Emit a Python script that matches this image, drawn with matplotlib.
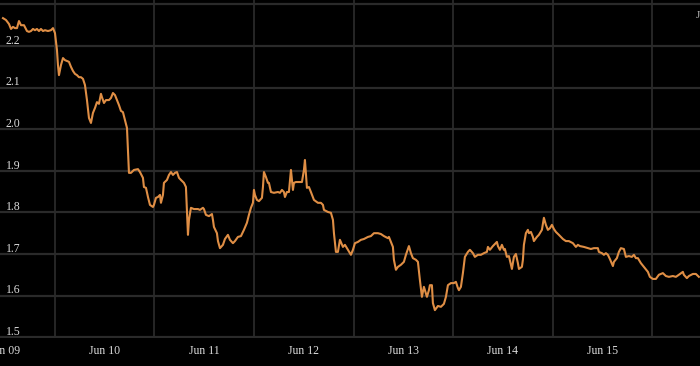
import matplotlib
matplotlib.use("Agg")
import matplotlib.pyplot as plt

# hours since Jun 09 00:00
hours = [-0.48, 0.24, 0.96, 1.45, 1.93, 2.41, 2.89, 3.37, 3.86, 4.58, 5.30, 5.78, 6.27, 6.75, 7.23, 7.71,
         8.19, 8.67, 9.16, 9.64, 10.36, 11.08, 11.57, 12.05, 12.53, 12.77, 13.01, 13.49, 13.98, 14.46, 14.94,
         15.42, 15.90, 16.39, 16.87, 17.35, 17.83, 18.31, 18.80, 19.28, 19.76, 20.24, 20.72, 21.20, 21.69,
         22.17, 22.65, 23.13, 23.37, 23.86, 24.34, 25.06, 25.54, 26.02, 26.51, 26.99, 27.47, 27.95, 28.43,
         28.92, 29.40, 29.88, 30.36, 31.08, 32.05, 32.53, 33.25, 33.49, 33.98, 34.46, 34.94, 35.66, 35.90,
         36.39, 36.87, 37.35, 37.59, 38.07, 38.31, 39.04, 39.52, 40.00, 40.48, 40.96, 41.45, 41.93, 42.41,
         43.13, 43.61, 44.10, 44.34, 44.82, 45.54, 46.51, 46.99, 47.71, 47.95, 48.43, 49.16, 49.88, 50.12,
         50.36, 51.08, 51.33, 51.81, 52.53, 53.01, 53.73, 54.22, 54.94, 55.42, 56.14, 56.87, 57.59, 58.31,
         58.79, 59.28, 59.76, 60.00, 60.24, 60.72, 61.20, 61.93, 62.17, 62.41, 62.89, 63.37, 63.61, 64.10,
         64.82, 65.78, 66.27, 66.75, 67.23, 67.47, 67.95, 68.43, 68.92, 69.40, 69.64, 70.12, 70.84, 71.57,
         72.05, 72.29, 72.77, 73.25, 73.73, 74.46, 75.42, 76.14, 76.63, 76.87, 77.83, 78.55, 79.04, 79.28,
         79.76, 80.24, 80.72, 81.45, 81.93, 82.65, 83.37, 83.86, 84.34, 85.06, 85.78, 86.51, 87.47, 88.19,
         88.92, 89.88, 90.60, 91.33, 92.29, 92.53, 93.01, 93.49, 93.73, 94.22, 94.70, 95.42, 96.14, 96.63,
         97.35, 97.83, 98.31, 99.04, 99.52, 100.00, 100.48, 100.96, 101.69, 102.17, 102.41, 102.89, 103.13,
         103.61, 104.34, 105.06, 105.78, 106.27, 106.75, 107.47, 108.19, 108.67, 109.16, 109.40, 109.88,
         110.36, 110.84, 111.57, 112.05, 112.77, 113.25, 113.98, 114.70, 115.42, 116.14, 116.39, 116.87,
         117.59, 118.07, 118.55, 118.80, 119.28, 119.76, 120.24, 120.48, 120.96, 121.45, 122.17, 122.65,
         123.13, 123.61, 123.86, 124.58, 124.82, 125.06, 125.54, 126.02, 126.27, 126.75, 127.23, 127.47,
         128.19, 128.67, 129.40, 129.88, 130.36, 130.84, 131.33, 131.81, 132.29, 132.77, 133.49, 134.46,
         135.18, 135.90, 136.87, 137.59, 138.07, 138.55, 139.52, 140.48, 141.20, 141.93, 142.89, 143.13,
         143.86, 144.34, 144.82, 145.30, 145.78, 146.51, 146.75, 147.47, 147.95, 148.43, 149.16, 149.64,
         150.36, 151.08, 151.57, 152.05, 152.53, 153.25, 153.98, 154.94, 155.42, 156.14, 156.87, 157.59,
         158.55, 159.28, 160.00, 160.96, 161.69, 162.41, 163.37, 163.61, 164.34, 164.82, 165.78, 166.51,
         167.23]

values = [2.267, 2.2625, 2.253, 2.241, 2.246, 2.243, 2.243, 2.260, 2.250, 2.250, 2.236, 2.234, 2.236, 2.241,
          2.238, 2.241, 2.236, 2.241, 2.236, 2.238, 2.236, 2.238, 2.243, 2.231, 2.190, 2.154, 2.130, 2.154,
          2.171, 2.166, 2.164, 2.162, 2.150, 2.140, 2.133, 2.130, 2.125, 2.125, 2.121, 2.106, 2.070, 2.027,
          2.015, 2.039, 2.051, 2.065, 2.061, 2.085, 2.077, 2.063, 2.070, 2.070, 2.075, 2.087, 2.082, 2.070,
          2.058, 2.044, 2.041, 2.022, 2.003, 1.895, 1.895, 1.902, 1.904, 1.897, 1.883, 1.861, 1.859, 1.837,
          1.818, 1.813, 1.818, 1.835, 1.837, 1.842, 1.823, 1.842, 1.871, 1.878, 1.890, 1.897, 1.890, 1.895,
          1.897, 1.883, 1.878, 1.871, 1.861, 1.746, 1.782, 1.811, 1.808, 1.808, 1.806, 1.811, 1.808, 1.794,
          1.791, 1.796, 1.782, 1.765, 1.750, 1.731, 1.714, 1.722, 1.736, 1.746, 1.734, 1.726, 1.731, 1.741,
          1.743, 1.758, 1.775, 1.794, 1.811, 1.823, 1.854, 1.842, 1.830, 1.827, 1.835, 1.861, 1.897, 1.885,
          1.871, 1.871, 1.849, 1.847, 1.849, 1.847, 1.854, 1.849, 1.837, 1.849, 1.849, 1.902, 1.854, 1.871,
          1.873, 1.873, 1.873, 1.902, 1.926, 1.859, 1.861, 1.849, 1.830, 1.823, 1.823, 1.818, 1.806, 1.801,
          1.799, 1.782, 1.750, 1.705, 1.705, 1.734, 1.717, 1.722, 1.710, 1.698, 1.710, 1.726, 1.729, 1.734,
          1.736, 1.741, 1.743, 1.750, 1.750, 1.748, 1.743, 1.738, 1.741, 1.729, 1.717, 1.686, 1.662, 1.669,
          1.674, 1.681, 1.698, 1.719, 1.702, 1.690, 1.686, 1.681, 1.637, 1.597, 1.621, 1.597, 1.613, 1.625,
          1.625, 1.582, 1.565, 1.575, 1.573, 1.580, 1.597, 1.625, 1.630, 1.630, 1.633, 1.618, 1.613, 1.621,
          1.654, 1.693, 1.705, 1.710, 1.702, 1.693, 1.698, 1.698, 1.702, 1.705, 1.717, 1.710, 1.719, 1.724,
          1.729, 1.719, 1.710, 1.722, 1.710, 1.712, 1.693, 1.695, 1.664, 1.693, 1.700, 1.678, 1.664, 1.669,
          1.686, 1.722, 1.750, 1.758, 1.750, 1.753, 1.741, 1.731, 1.741, 1.746, 1.758, 1.787, 1.770, 1.758,
          1.762, 1.770, 1.760, 1.753, 1.746, 1.736, 1.731, 1.731, 1.726, 1.717, 1.722, 1.719, 1.717, 1.714,
          1.712, 1.714, 1.714, 1.705, 1.702, 1.698, 1.702, 1.698, 1.688, 1.671, 1.681, 1.690, 1.705, 1.714,
          1.712, 1.693, 1.695, 1.693, 1.698, 1.690, 1.690, 1.678, 1.669, 1.657, 1.645, 1.640, 1.640, 1.650,
          1.654, 1.647, 1.645, 1.647, 1.645, 1.650, 1.657, 1.650, 1.642, 1.647, 1.652, 1.652, 1.645]

x_tick_hours = [0, 24, 48, 72, 96, 120, 144]
x_tick_labels = ["Jun 09", "Jun 10", "Jun 11", "Jun 12", "Jun 13", "Jun 14", "Jun 15"]
x_grid_hours = [12, 36, 60, 84, 108, 132, 156]
y_ticks = [1.5, 1.6, 1.7, 1.8, 1.9, 2.0, 2.1, 2.2, 2.3]

W, H = 700, 366
fig = plt.figure(figsize=(W / 100, H / 100), dpi=100, facecolor="black")
ax = fig.add_axes([0, (H - 338) / H, 1, 338 / H], facecolor="black")
font = "Liberation Serif"
grid_c = "#2a2a2a"

ax.set_xlim(-1.2, 167.5)
ax.set_ylim(1.498, 2.3106)

for yv in y_ticks:
    ax.axhline(yv, color=grid_c, lw=1.6, zorder=1)
    if yv < 2.3:
        ax.text(-1.2 + 1.4, yv + 0.0055, f"{yv:.1f}", color="#dcdcdc", fontsize=8.5,
                family=font, ha="left", va="baseline", zorder=3)
for xv in x_grid_hours:
    ax.axvline(xv, color=grid_c, lw=1.3, zorder=1)

ax.plot(hours, values, color="#df8e45", lw=1.5, zorder=2, solid_joinstyle="round")

ax.set_xticks(x_tick_hours)
ax.set_xticklabels(x_tick_labels, family=font, fontsize=8.5, color="#dcdcdc")
ax.tick_params(axis="x", length=0, pad=5)
ax.set_yticks([])
for s in ax.spines.values():
    s.set_visible(False)

fig.text(696 / W, 1 - 15 / H, "J", color="#bbbbbb", fontsize=8, family=font, ha="left", va="center")

fig.savefig("out.png", dpi=100, facecolor="black")
